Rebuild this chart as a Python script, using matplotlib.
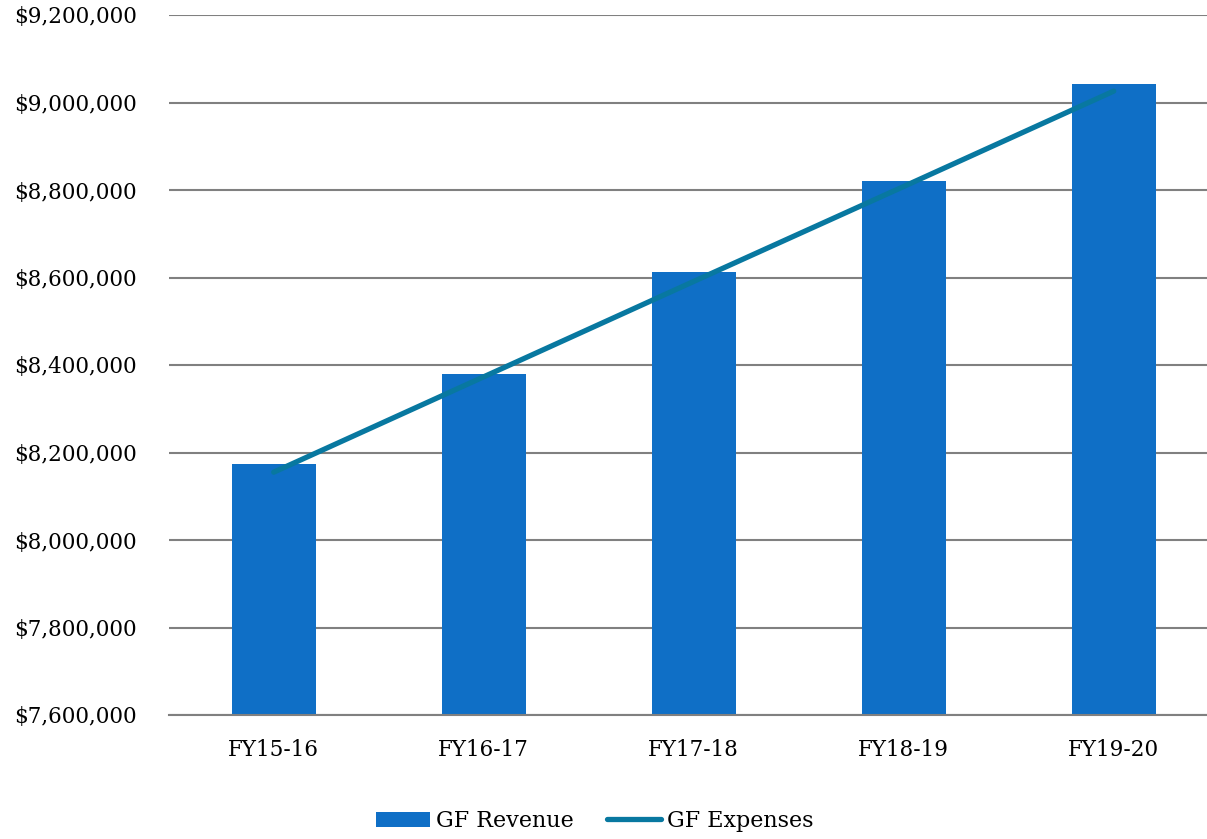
import matplotlib
matplotlib.use("Agg")
import matplotlib.pyplot as plt
from matplotlib.ticker import FuncFormatter, MultipleLocator

categories = ["FY15-16", "FY16-17", "FY17-18", "FY18-19", "FY19-20"]
gf_revenue = [8174000, 8379000, 8613000, 8821000, 9042000]
gf_expenses = [8155000, 8373000, 8591000, 8808000, 9026000]

plt.rcParams['font.family'] = ['DejaVu Serif']

W, H = 1207, 839
fig = plt.figure(figsize=(W / 100, H / 100), dpi=100)
left = 168.7 / W
width = 1050 / W
bottom = 1 - 715 / H
top = 1 - 15 / H
ax = fig.add_axes([left, bottom, width, top - bottom])

x = range(len(categories))
bars = ax.bar(x, gf_revenue, width=0.4, color="#0F6FC6", label="GF Revenue", zorder=2)
line, = ax.plot(x, gf_expenses, color="#0878A0", linewidth=3.8, solid_capstyle="round",
                label="GF Expenses", zorder=3)

ax.set_xlim(-0.5, 4.5)
ax.set_ylim(7600000, 9200000)
ax.yaxis.set_major_locator(MultipleLocator(200000))
ax.yaxis.set_major_formatter(FuncFormatter(lambda v, p: "${:,.0f}".format(v)))
ax.grid(axis="y", color="#808080", linewidth=1.5, zorder=0)
ax.set_axisbelow(True)
for s in ["top", "right", "left"]:
    ax.spines[s].set_visible(False)
ax.spines["bottom"].set_color("#808080")
ax.spines["bottom"].set_linewidth(1.5)
ax.tick_params(axis="both", length=0, labelsize=15.5, colors="black")
ax.tick_params(axis="y", pad=23)
ax.tick_params(axis="x", pad=17)
ax.set_xticks(list(x))
ax.set_xticklabels(categories)

leg = fig.legend(handles=[bars, line], labels=["GF Revenue", "GF Expenses"],
                 loc="center", bbox_to_anchor=(595 / W, 1 - 821 / H), ncol=2,
                 frameon=False, fontsize=16, handlelength=2.4, handleheight=0.65,
                 handletextpad=0.3, columnspacing=1.5)

fig.savefig("out.png", dpi=100)
